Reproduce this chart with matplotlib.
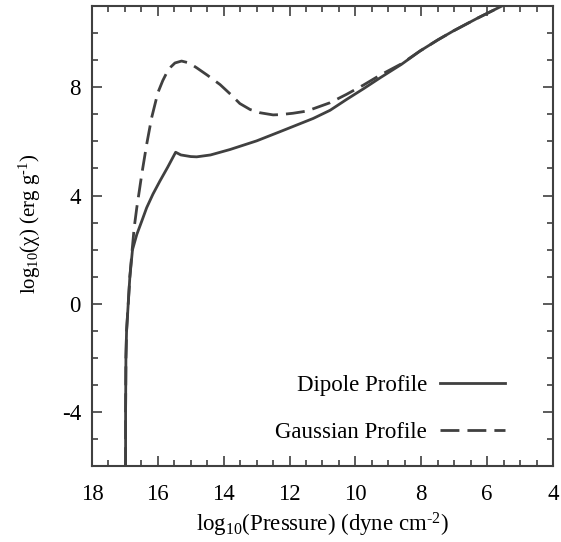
import matplotlib
matplotlib.use("Agg")
import matplotlib.pyplot as plt
from matplotlib.ticker import MultipleLocator

plt.rcParams['font.family'] = ['Liberation Serif', 'DejaVu Serif']
plt.rcParams['mathtext.fontset'] = 'custom'
plt.rcParams['mathtext.rm'] = 'Liberation Serif'
plt.rcParams['mathtext.it'] = 'Liberation Serif:italic'
plt.rcParams['axes.unicode_minus'] = False

# Dipole profile (log10 P, log10 chi)
dipole_logp = [16.98, 16.98, 16.97, 16.95, 16.90, 16.85, 16.77, 16.64, 16.49, 16.34, 16.15,
               15.94, 15.70, 15.46, 15.30, 15.00, 14.82, 14.40, 13.81, 13.00, 12.29,
               11.28, 10.77, 10.27, 9.75, 9.25, 8.60, 8.04, 7.50, 7.03, 6.30, 5.56]
dipole_chi = [-6.0, -4.0, -2.0, -1.0, 0.0, 1.0, 2.0, 2.56, 3.05, 3.55, 4.05,
              4.53, 5.05, 5.60, 5.50, 5.44, 5.43, 5.50, 5.70, 6.02, 6.36,
              6.85, 7.15, 7.55, 7.95, 8.35, 8.85, 9.34, 9.75, 10.08, 10.55, 11.0]

# Gaussian profile
gauss_logp = [16.98, 16.98, 16.97, 16.95, 16.90, 16.85, 16.78, 16.72, 16.64, 16.56, 16.49,
              16.34, 16.19, 16.00, 15.85, 15.73, 15.60, 15.48, 15.28, 15.05, 14.82,
              14.50, 14.11, 13.80, 13.51, 13.20, 12.90, 12.50, 12.29, 11.90, 11.48,
              10.77, 10.27, 9.76, 9.25, 8.60, 8.04, 7.50, 7.03, 6.30, 5.56]
gauss_chi = [-6.0, -4.0, -2.0, -1.0, 0.0, 1.0, 2.0, 2.8, 3.55, 4.2, 4.78,
             5.89, 6.87, 7.80, 8.25, 8.54, 8.76, 8.90, 8.97, 8.90, 8.72,
             8.45, 8.10, 7.75, 7.40, 7.18, 7.06, 6.98, 6.99, 7.04, 7.12,
             7.43, 7.74, 8.08, 8.45, 8.87, 9.34, 9.75, 10.08, 10.55, 11.0]

xticks = [18, 16, 14, 12, 10, 8, 6, 4]
yticks = [-4, 0, 4, 8]

col = '#404040'
fs = 16.5
fig = plt.figure(figsize=(5.61, 5.42), dpi=100)
ax = fig.add_axes([0.164, 0.140, 0.8217, 0.8487])

ax.plot(dipole_logp, dipole_chi, color=col, lw=2.0, label='Dipole Profile')
ax.plot(gauss_logp, gauss_chi, color=col, lw=2.0, dashes=(6.8, 2.9), label='Gaussian Profile')

ax.set_xlim(18, 4)
ax.set_ylim(-6, 11)
ax.set_xticks(xticks)
ax.set_yticks(yticks)
ax.xaxis.set_minor_locator(MultipleLocator(0.5))
ax.yaxis.set_minor_locator(MultipleLocator(1))
ax.tick_params(which='both', direction='in', top=True, right=True, color=col,
               labelsize=fs)
ax.tick_params(axis='x', which='both', pad=13)
ax.tick_params(axis='y', which='both', pad=8)
ax.tick_params(which='major', length=7, width=1.2)
ax.tick_params(which='minor', length=4, width=1.2)
for s in ax.spines.values():
    s.set_color(col)
    s.set_linewidth(1.5)

ax.set_xlabel(r'log$_{10}$(Pressure) (dyne cm$^{\text{-2}}$)', fontsize=fs, labelpad=4)
ax.set_ylabel(r'log$_{10}$(χ) (erg g$^{\text{-1}}$)', fontsize=15)
ax.yaxis.set_label_coords(-0.106, 0.526)

ax.legend(loc='lower right', bbox_to_anchor=(0.896, 0.051), frameon=False,
          markerfirst=False, fontsize=fs, handlelength=2.84, handletextpad=0.57,
          labelspacing=1.1, borderpad=0, borderaxespad=0)

fig.savefig('out.png', dpi=100)
